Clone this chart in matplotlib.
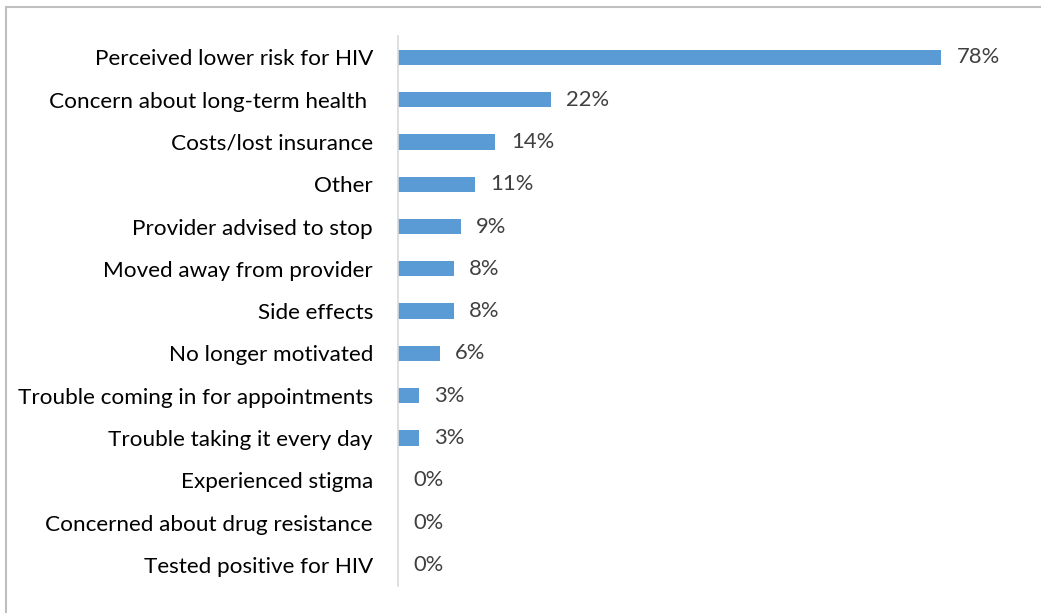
import matplotlib.pyplot as plt
from matplotlib.patches import Rectangle
from matplotlib.ticker import FixedLocator

reasons = [
    "Perceived lower risk for HIV",
    "Concern about long-term health ",
    "Costs/lost insurance",
    "Other",
    "Provider advised to stop",
    "Moved away from provider",
    "Side effects",
    "No longer motivated",
    "Trouble coming in for appointments",
    "Trouble taking it every day",
    "Experienced stigma",
    "Concerned about drug resistance",
    "Tested positive for HIV",
]
shares = [0.78, 0.22, 0.14, 0.11, 0.09, 0.08, 0.08, 0.06, 0.03, 0.03, 0.0, 0.0, 0.0]

plt.rcParams["font.family"] = ["Lato", "DejaVu Sans"]

fig = plt.figure(figsize=(10.41, 6.13), dpi=100)
ax = fig.add_axes([0.3823, 0.044, 0.6, 0.897])

pos = list(range(len(reasons)))
ax.barh(pos, shares, height=0.36, color="#5b9bd5")
ax.set_ylim(len(reasons) - 0.5, -0.5)
ax.set_xlim(0, 0.897)

ax.yaxis.set_major_locator(FixedLocator(pos))
ax.set_yticklabels(reasons, fontsize=16.2, color="#000000")
ax.tick_params(axis="y", length=0, pad=18)
ax.set_xticks([])

for s in ["top", "right", "bottom"]:
    ax.spines[s].set_visible(False)
ax.spines["left"].set_color("#d9d9d9")
ax.spines["left"].set_linewidth(1.2)

for y, v in zip(pos, shares):
    ax.annotate(f"{v:.0%}", xy=(v, y), xytext=(11, 0), textcoords="offset points",
                va="center", ha="left", fontsize=15.8, color="#404040")

# outer chart frame (only top and left edges fall inside the image)
fig.patches.append(Rectangle((6 / 1041, -0.1), 1.2, 1.1 - 7 / 613, transform=fig.transFigure,
                             fill=False, edgecolor="#bfbfbf", linewidth=1.5))

fig.savefig("out.png", dpi=100)
